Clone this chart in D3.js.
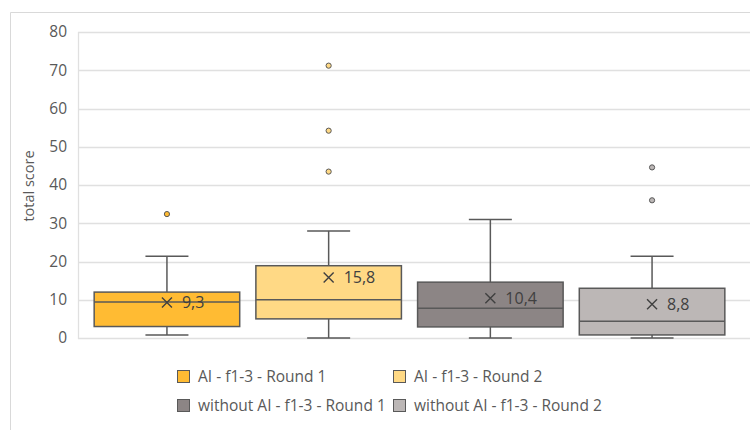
<!DOCTYPE html>
<html><head><meta charset="utf-8">
<script src="https://cdn.jsdelivr.net/npm/d3@7"></script>
<style>
html,body{margin:0;padding:0;background:#fff;}
svg{display:block;font-family:"Open Sans",sans-serif;}
</style></head>
<body><svg id="c" width="750" height="430"></svg>
<script>
const series = ["AI - f1-3 - Round 1","AI - f1-3 - Round 2","without AI - f1-3 - Round 1","without AI - f1-3 - Round 2"];
const colors = ["#FFBB33","#FFD985","#8C8585","#BCB7B6"];
const whiskerLow = [0.8, 0, 0, 0];
const q1 = [3, 5, 2.9, 0.8];
const median = [9.4, 10, 7.8, 4.4];
const q3 = [12, 18.9, 14.6, 13];
const whiskerHigh = [21.4, 28, 31, 21.4];
const means = [9.3, 15.8, 10.4, 8.8];
const meanLabels = ["9,3","15,8","10,4","8,8"];
const outliers = [[32.4],[43.5,54.2,71.2],[],[36,44.6]];
const yTicks = [0,10,20,30,40,50,60,70,80];

const svg = d3.select("#c");
const stroke = "#595959";
const pLeft = 78, pRight = 750, pTop = 32, pBottom = 338;

// outer frame
svg.append("line").attr("x1",10.5).attr("x2",750).attr("y1",12.5).attr("y2",12.5).attr("stroke","#d9d9d9");
svg.append("line").attr("x1",10.5).attr("x2",10.5).attr("y1",12.5).attr("y2",430).attr("stroke","#d9d9d9");

const y = d3.scaleLinear().domain([0,80]).range([pBottom, pTop]);
const x = d3.scaleBand().domain(series).range([78, 741]).paddingInner(0.1).paddingOuter(0.1);

// gridlines
svg.append("g").selectAll("line").data(yTicks).join("line")
  .attr("x1",pLeft).attr("x2",pRight)
  .attr("y1",d=>Math.round(y(d))+0.5).attr("y2",d=>Math.round(y(d))+0.5)
  .attr("stroke","#e0e0e0").attr("stroke-width",1.3);
svg.append("line").attr("x1",pLeft+0.5).attr("x2",pLeft+0.5).attr("y1",pTop).attr("y2",pBottom+1)
  .attr("stroke","#e0e0e0").attr("stroke-width",1.3);

// y axis
const yAxis = d3.axisLeft(y).tickValues(yTicks).tickSize(0).tickPadding(11);
const ga = svg.append("g").attr("transform",`translate(${pLeft},0)`).call(yAxis);
ga.select(".domain").remove();
ga.selectAll("text").attr("fill","#595959").attr("font-size","15.5px").attr("font-family","Open Sans, sans-serif");

svg.append("text").attr("transform","translate(34,186) rotate(-90)")
  .attr("text-anchor","middle").attr("fill","#595959").attr("font-size","14.5px").text("total score");

// boxes
const g = svg.append("g");
series.forEach((s,i)=>{
  const x0 = x(s), w = x.bandwidth(), cx = x0 + w/2;
  const cap = 43;
  g.append("line").attr("x1",cx).attr("x2",cx).attr("y1",y(whiskerHigh[i])).attr("y2",y(q3[i])).attr("stroke",stroke).attr("stroke-width",1.5);
  g.append("line").attr("x1",cx).attr("x2",cx).attr("y1",y(q1[i])).attr("y2",y(whiskerLow[i])).attr("stroke",stroke).attr("stroke-width",1.5);
  g.append("line").attr("x1",cx-cap/2).attr("x2",cx+cap/2).attr("y1",y(whiskerHigh[i])).attr("y2",y(whiskerHigh[i])).attr("stroke",stroke).attr("stroke-width",1.5);
  g.append("line").attr("x1",cx-cap/2).attr("x2",cx+cap/2).attr("y1",y(whiskerLow[i])).attr("y2",y(whiskerLow[i])).attr("stroke",stroke).attr("stroke-width",1.5);
  g.append("rect").attr("x",x0).attr("width",w).attr("y",y(q3[i])).attr("height",y(q1[i])-y(q3[i]))
    .attr("fill",colors[i]).attr("stroke",stroke).attr("stroke-width",1.5);
  g.append("line").attr("x1",x0).attr("x2",x0+w).attr("y1",y(median[i])).attr("y2",y(median[i])).attr("stroke",stroke).attr("stroke-width",1.5);
  const my = y(means[i]), r = 5;
  g.append("path").attr("d",`M${cx-r},${my-r}L${cx+r},${my+r}M${cx-r},${my+r}L${cx+r},${my-r}`)
    .attr("stroke","#404040").attr("stroke-width",1.4).attr("fill","none");
  g.append("text").attr("x",cx+15).attr("y",my).attr("dy","0.35em").attr("fill","#404040")
    .attr("font-size","16px").text(meanLabels[i]);
  outliers[i].forEach(v=>{
    g.append("circle").attr("cx",cx).attr("cy",y(v)).attr("r",2.6)
      .attr("fill",colors[i]).attr("stroke",stroke).attr("stroke-width",1);
  });
});

// legend
const legPos = [[177,376],[393,376],[177,405],[393,405]];
series.forEach((s,i)=>{
  const [lx,ly] = legPos[i];
  svg.append("rect").attr("x",lx+0.5).attr("y",ly-5.5).attr("width",12).attr("height",12)
    .attr("fill",colors[i]).attr("stroke",stroke).attr("stroke-width",1);
  svg.append("text").attr("x",lx+21).attr("y",ly+0.5).attr("dy","0.35em").attr("fill","#595959")
    .attr("font-size","15.5px").text(s);
});
</script></body></html>
